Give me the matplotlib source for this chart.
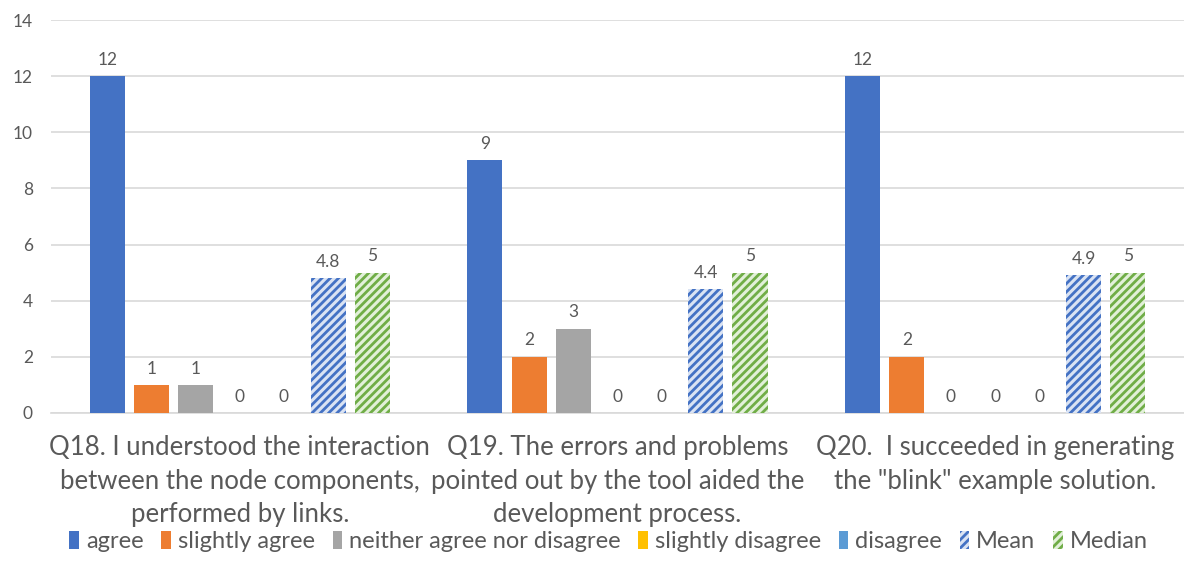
import matplotlib
matplotlib.use("Agg")
import matplotlib.pyplot as plt
import numpy as np

plt.rcParams['font.family'] = ['Lato', 'DejaVu Sans']
plt.rcParams['hatch.linewidth'] = 2.0

questions = [
    "Q18. I understood the interaction\nbetween the node components,\nperformed by links.",
    "Q19. The errors and problems\npointed out by the tool aided the\ndevelopment process.",
    "Q20.  I succeeded in generating\nthe \"blink\" example solution.",
]
series_names = ["agree", "slightly agree", "neither agree nor disagree",
                "slightly disagree", "disagree", "Mean", "Median"]
agree = [12, 9, 12]
slightly_agree = [1, 2, 2]
neither = [1, 3, 0]
slightly_disagree = [0, 0, 0]
disagree = [0, 0, 0]
mean = [4.8, 4.4, 4.9]
median = [5, 5, 5]
yticks = [0, 2, 4, 6, 8, 10, 12, 14]

series_values = [agree, slightly_agree, neither, slightly_disagree,
                 disagree, mean, median]
face_colors = ["#4472C4", "#ED7D31", "#A5A5A5", "#FFC000", "#5B9BD5",
               "#DAE3F3", "#E2F0D9"]
stripe_colors = [None, None, None, None, None, "#4472C4", "#70AD47"]

text_color = "#595959"
grid_color = "#D9D9D9"

fig = plt.figure(figsize=(11.84, 5.80), dpi=100)
ax = fig.add_axes([0.043, 0.288, 0.957, 0.6775])

x = np.arange(len(questions))
step = 0.117
width = 0.093
n = len(series_values)
handles = []
for i, (vals, fc, sc) in enumerate(zip(series_values, face_colors, stripe_colors)):
    pos = x + (i - (n - 1) / 2) * step
    if sc is None:
        bars = ax.bar(pos, vals, width, color=fc, linewidth=0,
                      label=series_names[i], zorder=3)
    else:
        bars = ax.bar(pos, vals, width, facecolor=fc, edgecolor=sc,
                      hatch="////", linewidth=0, label=series_names[i], zorder=3)
    ax.bar_label(bars, labels=[f"{v:g}" for v in vals], padding=6,
                 fontsize=12.5, color=text_color)
    handles.append(bars)

ax.set_ylim(0, 14)
ax.set_xlim(-0.5, 2.5)
ax.set_yticks(yticks)
ax.set_yticklabels([str(t) for t in yticks])
ax.set_xticks(x)
ax.set_xticklabels(questions, fontsize=18.5, color=text_color,
                   linespacing=1.42)
ax.tick_params(axis='x', length=0, pad=16)
ax.tick_params(axis='y', length=0, pad=13, labelsize=12.5, labelcolor=text_color)
ax.grid(axis='y', color=grid_color, linewidth=1.2, zorder=0)
ax.set_axisbelow(True)
for s in ['top', 'right', 'left']:
    ax.spines[s].set_visible(False)
ax.spines['bottom'].set_color(grid_color)
ax.spines['bottom'].set_linewidth(1.2)

fig.legend(handles=handles, loc='center', bbox_to_anchor=(0.514, 0.067),
           ncol=7, frameon=False, fontsize=17, labelcolor=text_color,
           handlelength=0.4, handleheight=0.8, handletextpad=0.3,
           columnspacing=0.75)

fig.savefig("out.png", dpi=100)
